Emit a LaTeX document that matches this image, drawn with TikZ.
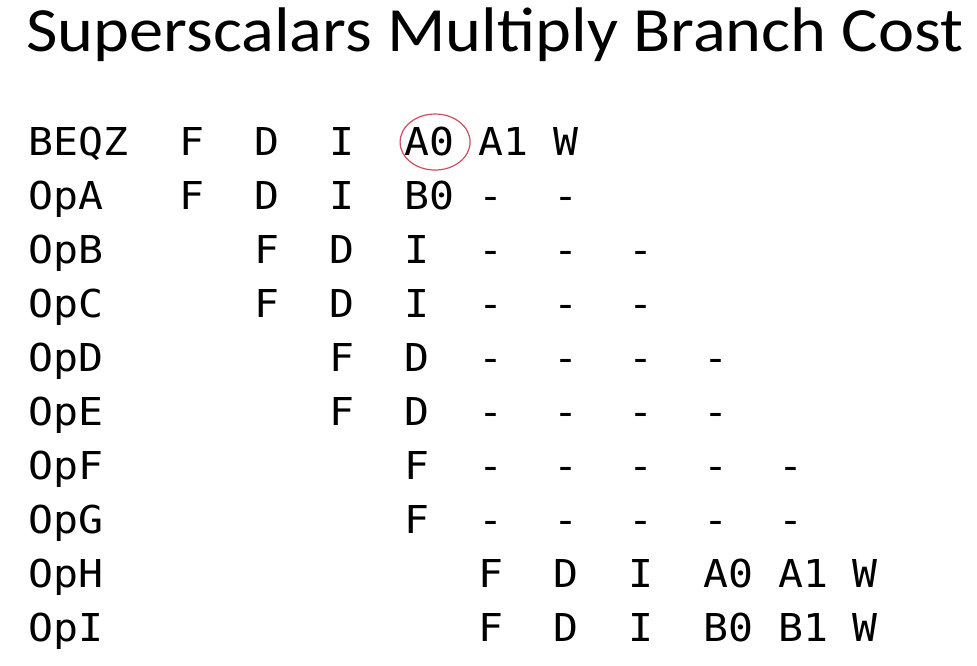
\documentclass[tikz,border=0pt]{standalone}
\usepackage{fontspec}
\setmainfont{Carlito}
\newfontfamily\stagefont{DejaVu Sans Mono}
\usepackage{tikz}
\definecolor{markred}{RGB}{204,78,98}

\tikzset{
  titletext/.style={font=\fontsize{63}{70}\selectfont, anchor=base, inner sep=0pt, xscale=1.085},
  opname/.style={font=\stagefont\fontsize{38.4}{40}\selectfont, anchor=base west, inner sep=0pt, xscale=1.08},
  stagecell/.style={font=\stagefont\fontsize{38.4}{40}\selectfont, anchor=base west, inner sep=0pt, xscale=1.08},
  hilite/.style={draw=markred, line width=1.2pt}
}

\begin{document}
\begin{tikzpicture}[x=1pt,y=-1pt]
\useasboundingbox (0,0) rectangle (977,665);
\node[titletext] (title) at (495,51) {Superscalars Multiply Branch Cost};
% rows: row index / name / first column / stages
\foreach \r/\op/\first/\stages in {
    0/BEQZ/1/{F,D,I,A0,A1,W},
    1/OpA/1/{F,D,I,B0,-,-},
    2/OpB/2/{F,D,I,-,-,-},
    3/OpC/2/{F,D,I,-,-,-},
    4/OpD/3/{F,D,-,-,-,-},
    5/OpE/3/{F,D,-,-,-,-},
    6/OpF/4/{F,-,-,-,-,-},
    7/OpG/4/{F,-,-,-,-,-},
    8/OpH/5/{F,D,I,A0,A1,W},
    9/OpI/5/{F,D,I,B0,B1,W}} {
  \node[opname] (\op) at (28,155+54.1*\r) {\op};
  \foreach \s [count=\k from \first] in \stages
    \node[stagecell] (\op-\k) at (179.5+74.8*\k-74.8,155+54.1*\r) {\s};
}
\draw[hilite] ([xshift=6pt,yshift=-1pt]BEQZ-4.center) ellipse [x radius=35, y radius=28];
\end{tikzpicture}
\end{document}
